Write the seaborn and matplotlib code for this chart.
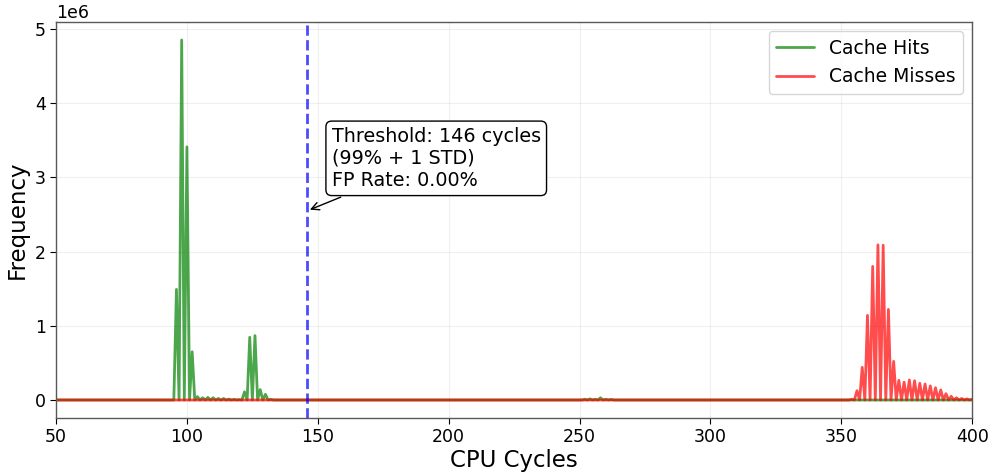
import numpy as np
import pandas as pd
import matplotlib
matplotlib.use("Agg")
import matplotlib.pyplot as plt
import seaborn as sns

# Histogram bins (CPU cycles) with non-zero counts; every other bin in range is empty
cycle_range = (50, 400)

hit_cycles = [96, 98, 100, 102, 104, 106, 108, 110, 112, 114, 116, 118, 120,
              122, 124, 126, 128, 130, 132,
              252, 254, 256, 258, 260, 262]
hit_counts = [1.49e6, 4.85e6, 3.41e6, 0.65e6, 0.045e6, 0.03e6, 0.035e6, 0.03e6,
              0.02e6, 0.02e6, 0.012e6, 0.008e6, 0.005e6,
              0.11e6, 0.845e6, 0.867e6, 0.14e6, 0.077e6, 0.01e6,
              0.01e6, 0.015e6, 0.01e6, 0.03e6, 0.01e6, 0.008e6]

miss_cycles = [354, 356, 358, 360, 362, 364, 366, 368, 370, 372, 374, 376, 378,
               380, 382, 384, 386, 388, 390, 392, 394, 396, 398, 400]
miss_counts = [0.01e6, 0.125e6, 0.44e6, 1.14e6, 1.80e6, 2.09e6, 2.085e6, 1.22e6,
               0.52e6, 0.265e6, 0.24e6, 0.27e6, 0.26e6, 0.225e6, 0.215e6, 0.19e6,
               0.165e6, 0.135e6, 0.085e6, 0.05e6, 0.03e6, 0.02e6, 0.015e6, 0.01e6]

threshold = 146
threshold_note = "(99% + 1 STD)"
fp_rate = 0.00

x_ticks = [50, 100, 150, 200, 250, 300, 350, 400]


def full_histogram(cycles, counts):
    bins = np.arange(cycle_range[0], cycle_range[1] + 1)
    s = pd.Series(counts, index=cycles).reindex(bins, fill_value=0.0)
    return pd.DataFrame({"cycles": bins, "count": s.values})


hits = full_histogram(hit_cycles, hit_counts)
misses = full_histogram(miss_cycles, miss_counts)

sns.set_style("white")
plt.rcParams["font.family"] = ["DejaVu Sans"]
plt.rcParams["text.color"] = "black"
plt.rcParams["axes.labelcolor"] = "black"
plt.rcParams["xtick.color"] = "black"
plt.rcParams["ytick.color"] = "black"

fig = plt.figure(figsize=(9.92, 4.73), dpi=100)
ax = fig.add_axes([0.0565, 0.1163, 0.9235, 0.8372])

sns.lineplot(data=hits, x="cycles", y="count", ax=ax, color="green",
             alpha=0.7, linewidth=2, label="Cache Hits")
sns.lineplot(data=misses, x="cycles", y="count", ax=ax, color="red",
             alpha=0.7, linewidth=2, label="Cache Misses")

ax.axvline(threshold, color="blue", linestyle="--", linewidth=2, alpha=0.7)

ax.annotate(f"Threshold: {threshold} cycles\n{threshold_note}\nFP Rate: {fp_rate:.2f}%",
            xy=(threshold, 2.55e6), xytext=(155.3, 3.68e6),
            fontsize=13.8, ha="left", va="top",
            bbox=dict(boxstyle="round,pad=0.3", facecolor="white", edgecolor="black"),
            arrowprops=dict(arrowstyle="->", color="black", lw=1))

ax.set_xlim(*cycle_range)
ax.set_xticks(x_ticks)
ax.set_xlabel("CPU Cycles", fontsize=16.5, labelpad=2)
ax.set_ylabel("Frequency", fontsize=16.5)
ax.tick_params(axis="both", labelsize=12.5, length=4, width=0.8, direction="out",
               bottom=True, left=True, colors="black")
ax.yaxis.get_offset_text().set_fontsize(12.5)
ax.grid(True, alpha=0.3)
for sp in ax.spines.values():
    sp.set_color("0.35")
    sp.set_linewidth(1.0)

ax.legend(loc="upper right", fontsize=13.5, framealpha=0.8)

fig.savefig("out.png", dpi=100)
